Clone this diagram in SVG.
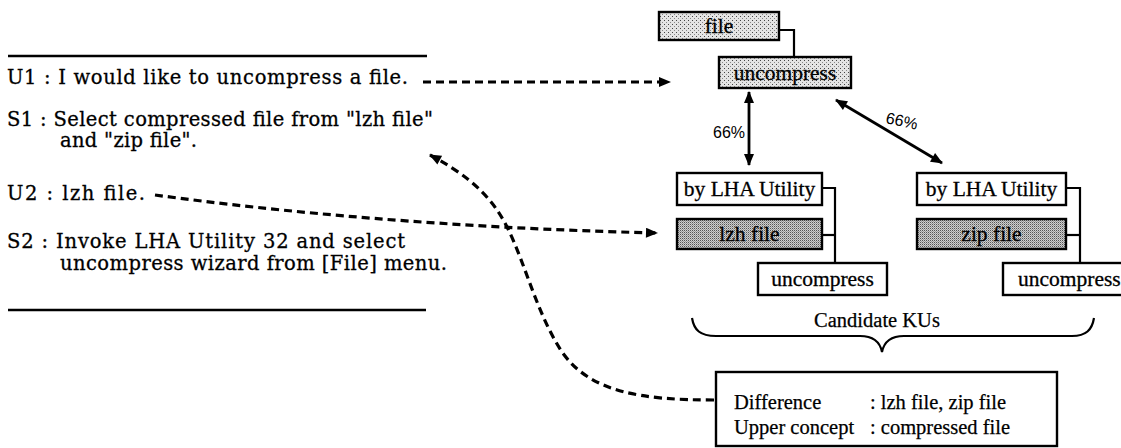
<svg xmlns="http://www.w3.org/2000/svg" width="1121" height="448" viewBox="0 0 1121 448">
<defs>
<style>
.lt{font-family:"DejaVu Serif","Liberation Serif",serif;font-size:19.5px;fill:#000;stroke:#000;stroke-width:0.3}
.bt{font-family:"Liberation Serif","Times New Roman",serif;font-size:21.5px;fill:#000;stroke:#000;stroke-width:0.3}
.ct{font-family:"Liberation Serif","Times New Roman",serif;font-size:20.5px;fill:#000;stroke:#000;stroke-width:0.25}
.pc{font-family:"Liberation Sans",Arial,sans-serif;font-size:16px;fill:#000}
.box{stroke:#000;stroke-width:2.4;fill:#fff}
.ln{stroke:#000;stroke-width:2.2;fill:none}
.rule{stroke:#000;stroke-width:2.4}
.dash{stroke:#000;stroke-width:3.2;fill:none;stroke-dasharray:8 5}
.dbl{stroke:#000;stroke-width:2.8;fill:none}
</style>
<pattern id="pl" width="4" height="4" patternUnits="userSpaceOnUse"><rect width="4" height="4" fill="#e4e4e4"/><rect width="1" height="1" fill="#444"/><rect x="2" y="2" width="1" height="1" fill="#888"/></pattern>
<pattern id="pd" width="2" height="2" patternUnits="userSpaceOnUse"><rect width="2" height="2" fill="#cfcfcf"/><rect width="1" height="1" fill="#555"/><rect x="1" y="1" width="1" height="1" fill="#999"/></pattern>
<marker id="ah" viewBox="0 0 12 10" refX="11" refY="5" markerWidth="13" markerHeight="10" markerUnits="userSpaceOnUse" orient="auto-start-reverse"><path d="M0,0 L12,5 L0,10 z" fill="#000"/></marker>
</defs>

<g id="dialogue">
<line class="rule" x1="8" y1="56" x2="427" y2="56"/>
<text class="lt" x="7" y="84" textLength="401">U1 : I would like to uncompress a file.</text>
<text class="lt" x="7" y="126" textLength="426">S1 : Select compressed file from "lzh file"</text>
<text class="lt" x="60" y="147" textLength="137">and "zip file".</text>
<text class="lt" x="7" y="200" textLength="138">U2 : lzh file.</text>
<text class="lt" x="7" y="248" textLength="398">S2 : Invoke LHA Utility 32 and select</text>
<text class="lt" x="60" y="270" textLength="387">uncompress wizard from [File] menu.</text>
<line class="rule" x1="8" y1="310" x2="426" y2="310"/>
</g>

<g id="node-file">
<rect class="box" x="659" y="12" width="120" height="28" style="fill:url(#pl)"/>
<text class="bt" x="719" y="33" text-anchor="middle">file</text>
</g>
<g id="node-uncompress-top">
<rect class="box" x="719" y="57" width="132" height="31" style="fill:url(#pl)"/>
<text class="bt" x="785" y="80" text-anchor="middle">uncompress</text>
</g>

<g id="node-lha-left">
<rect class="box" x="677" y="173" width="145" height="32"/>
<text class="bt" x="749.5" y="196" text-anchor="middle">by LHA Utility</text>
</g>
<g id="node-lzh">
<rect class="box" x="677" y="219" width="145" height="30" style="fill:url(#pd)"/>
<text class="bt" x="749.5" y="241" text-anchor="middle">lzh file</text>
</g>
<g id="node-uncompress-left">
<rect class="box" x="758" y="263" width="129" height="32"/>
<text class="bt" x="822.5" y="286" text-anchor="middle">uncompress</text>
</g>

<g id="node-lha-right">
<rect class="box" x="917" y="173" width="149" height="32"/>
<text class="bt" x="991.5" y="196" text-anchor="middle">by LHA Utility</text>
</g>
<g id="node-zip">
<rect class="box" x="917" y="219" width="149" height="30" style="fill:url(#pd)"/>
<text class="bt" x="991.5" y="241" text-anchor="middle">zip file</text>
</g>
<g id="node-uncompress-right">
<rect class="box" x="1003" y="263" width="130" height="32"/>
<text class="bt" x="1018" y="286">uncompress</text>
</g>

<g id="label-candidates">
<text class="ct" x="877" y="327" text-anchor="middle">Candidate KUs</text>
<path class="ln" d="M692,318 C694,330 700,336 716,336 L860,336 C874,336 880,342 882,352 C884,342 890,336 904,336 L1072,336 C1086,336 1092,330 1094,318"/>
</g>

<g id="node-difference">
<rect class="box" x="716" y="372" width="341" height="74"/>
<text class="ct" x="734" y="409">Difference</text>
<text class="ct" x="870" y="409">: lzh file, zip file</text>
<text class="ct" x="734" y="434">Upper concept</text>
<text class="ct" x="870" y="434">: compressed file</text>
</g>

<g id="connectors">
<polyline class="ln" points="779,30 794,30 794,57"/>
<polyline class="ln" points="822,188 835,188 835,263"/>
<line class="ln" x1="822" y1="235" x2="835" y2="235"/>
<polyline class="ln" points="1066,188 1080,188 1080,263"/>
<line class="ln" x1="1066" y1="235" x2="1080" y2="235"/>
<line class="dbl" x1="749" y1="92" x2="749" y2="165" marker-start="url(#ah)" marker-end="url(#ah)"/>
<line class="dbl" x1="836" y1="100" x2="942" y2="163" marker-start="url(#ah)" marker-end="url(#ah)"/>
<path class="dash" d="M423,82 L670,82" marker-end="url(#ah)"/>
<path class="dash" d="M155,195 C280,212 450,228 657,233" marker-end="url(#ah)"/>
<path class="dash" d="M714,400 C640,400 590,392 562,352 C532,306 522,246 497,210 C482,188 460,171 430,155" marker-end="url(#ah)"/>
</g>

<g id="percent-labels">
<text class="pc" x="713" y="138">66%</text>
<text class="pc" x="886" y="126" transform="rotate(12 900 120)">66%</text>
</g>
</svg>
